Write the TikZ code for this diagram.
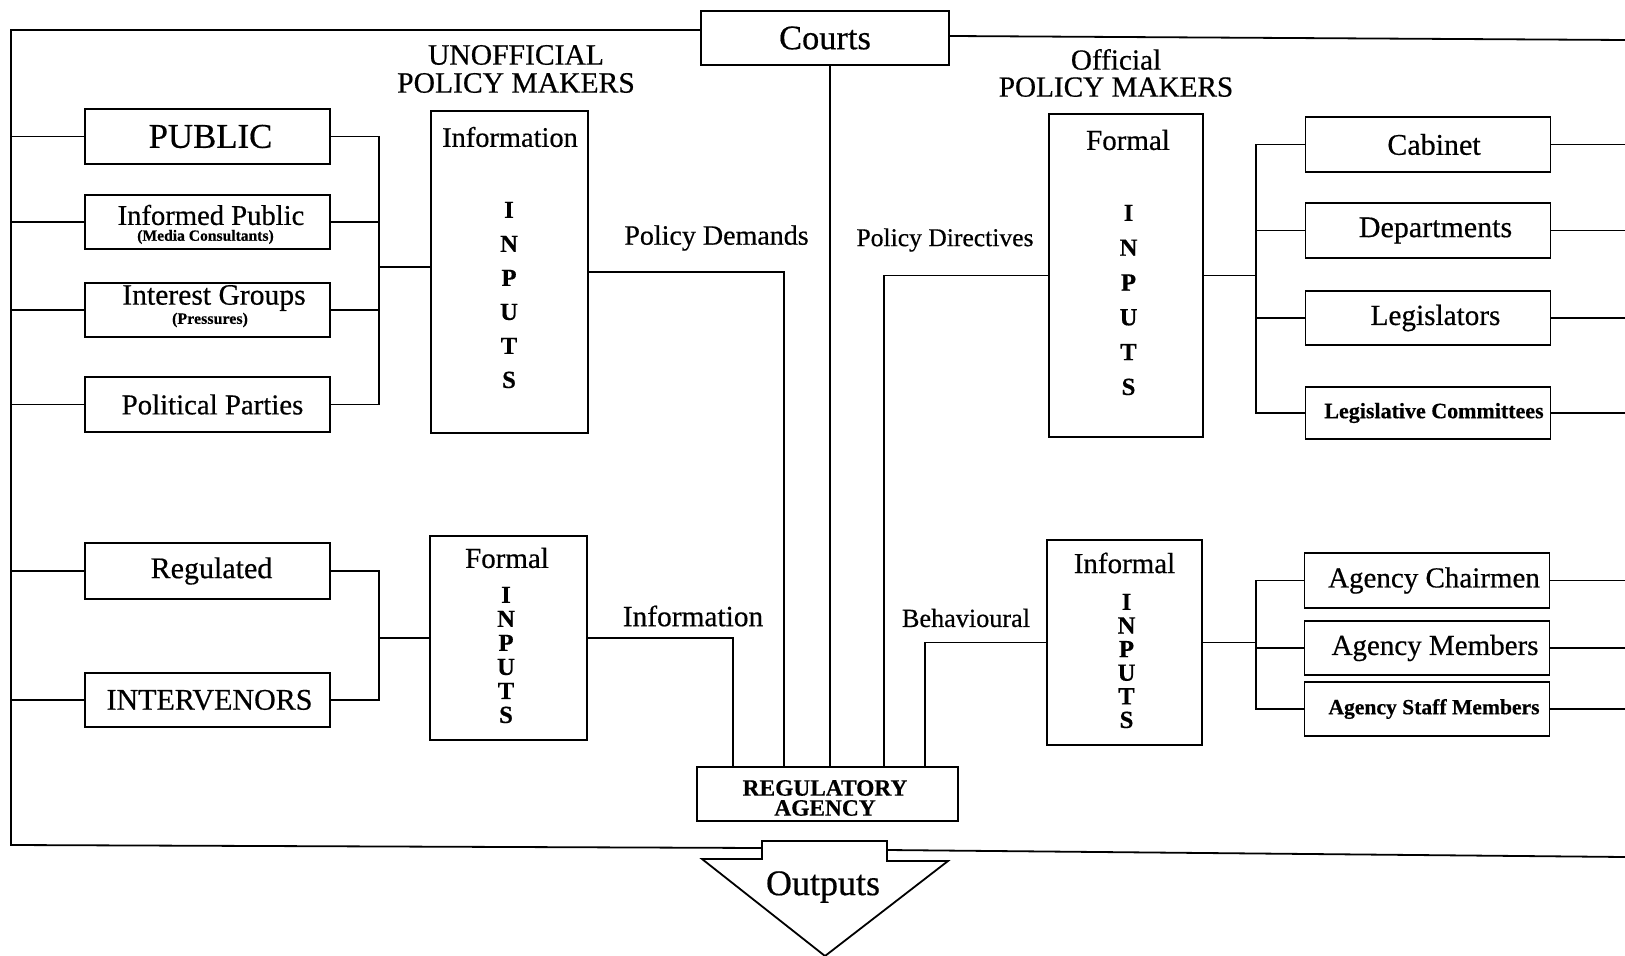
\documentclass[tikz,border=0pt]{standalone}
\usepackage{fontspec}
\setmainfont{Liberation Serif}[FakeBold=0.5]
\usetikzlibrary{calc}
\newcommand\fsz[1]{\fontsize{#1pt}{#1pt}\selectfont}
\begin{document}
\begin{tikzpicture}[x=0.5pt,y=-0.5pt,line width=0.9pt,
  box/.style={draw,line width=0.9pt,inner sep=0pt,align=center},
  wh/.style 2 args={minimum width=#1*0.5pt,minimum height=#2*0.5pt},
  lbl/.style={inner sep=0pt,align=center},
  letters/.style={inner sep=0pt,align=center,font=\bfseries\fontsize{12.3pt}{#1pt}\selectfont}]
\useasboundingbox (0,0) rectangle (1625,956);

% frame coordinates
\coordinate (ftl) at (11,30);
\coordinate (fbl) at (11,845);
\coordinate (stemL) at (762,848);
\coordinate (stemR) at (887,850);
\coordinate (ftr) at (1625,40);
\coordinate (fbr) at (1625,857);
\coordinate (fl) at (11,0);
\coordinate (fr) at (1625,0);
\coordinate (busL) at (379,0);
\coordinate (busR) at (1256,0);

% Courts
\node[box,wh={248}{54},font=\fsz{17.2}] (courts) at (825,38) {Courts};

% headings
\node[lbl,font=\fontsize{14.8pt}{14pt}\selectfont] (unoff) at (516,69) {UNOFFICIAL\\POLICY MAKERS};
\node[lbl,font=\fontsize{14.6pt}{13.5pt}\selectfont] (off) at (1116,73) {Official\\POLICY MAKERS};

% left column
\node[box,wh={245}{55},font=\fsz{17.4}] (pub) at (207.5,136.5) {\hspace*{3pt}PUBLIC};
\node[box,wh={245}{54}] (infp) at (207.5,222) {};
\node[lbl,font=\fsz{14.3}] (infpt) at (211,215) {Informed Public};
\node[lbl,font=\bfseries\fsz{7.8}] (infps) at (205.5,237) {(Media Consultants)};
\node[box,wh={245}{54}] (intg) at (207.5,310) {};
\node[lbl,font=\fsz{14.8}] (intgt) at (214,298) {Interest Groups};
\node[lbl,font=\bfseries\fsz{8}] (intgs) at (210,320) {(Pressures)};
\node[box,wh={245}{55},font=\fsz{14.4}] (pol) at (207.5,404.5) {\hspace*{5pt}Political Parties};
\node[box,wh={245}{56},font=\fsz{15}] (regd) at (207.5,571) {\hspace*{4pt}Regulated};
\node[box,wh={245}{54},font=\fsz{15}] (intv) at (207.5,700) {\hspace*{2pt}INTERVENORS};

% input boxes
\node[box,wh={157}{322}] (info) at (509.5,272) {};
\node[lbl,font=\fsz{14.2}] (infot) at (510,137) {Information};
\node[letters=17] (infoL) at (509,295) {I\\N\\P\\U\\T\\S};

\node[box,wh={157}{204}] (formBL) at (508.5,638) {};
\node[lbl,font=\fsz{14.5}] (formBLt) at (507,558) {Formal};
\node[letters=12] (formBLL) at (506,655) {I\\N\\P\\U\\T\\S};

\node[box,wh={154}{323}] (formTR) at (1126,275.5) {};
\node[lbl,font=\fsz{14.5}] (formTRt) at (1128,140) {Formal};
\node[letters=17.4] (formTRL) at (1128.5,300) {I\\N\\P\\U\\T\\S};

\node[box,wh={155}{205}] (infm) at (1124.5,642.5) {};
\node[lbl,font=\fsz{14.5}] (infmt) at (1124.5,563) {Informal};
\node[letters=11.8] (infmL) at (1126.5,661) {I\\N\\P\\U\\T\\S};

% right column
\node[box,wh={245}{55},font=\fsz{15}] (cab) at (1428,144.5) {\hspace*{6pt}Cabinet};
\node[box,wh={245}{55},font=\fsz{15}] (dep) at (1428,230.5) {\hspace*{7.5pt}Departments};
\node[box,wh={245}{54},font=\fsz{14.6}] (leg) at (1428,318) {\hspace*{7.5pt}Legislators};
\node[box,wh={245}{52},font=\bfseries\fsz{11}] (lc) at (1428,413) {\hspace*{6pt}Legislative Committees};
\node[box,wh={245}{55},font=\fsz{14.5}] (ach) at (1427,580.5) {\hspace*{7pt}Agency Chairmen};
\node[box,wh={245}{54},font=\fsz{14.5}] (amem) at (1427,648) {\hspace*{8pt}Agency Members};
\node[box,wh={245}{54},font=\bfseries\fsz{10.8}] (ast) at (1427,709) {\hspace*{7pt}Agency Staff Members};

% regulatory agency
\node[box,wh={261}{54}] (rega) at (827.5,794) {};
\node[lbl,font=\bfseries\fontsize{11.7pt}{10pt}\selectfont] (regat) at (825,798) {REGULATORY\\AGENCY};

% flow labels
\node[lbl,font=\fsz{14}] (pdem) at (716.5,238) {Policy Demands};
\node[lbl,font=\fsz{12.8}] (pdir) at (945,240) {Policy Directives};
\node[lbl,font=\fsz{14.7}] (infl) at (693,616) {Information};
\node[lbl,font=\fsz{13.1}] (behl) at (966,618) {Behavioural};

% outer frame
\draw (courts.west |- ftl) -- (ftl) -- (fbl) -- (stemL);
\draw (courts.east |- 0,36) -- (ftr);
\draw (stemR) -- (fbr);

% outputs arrow
\draw (762,859) -- (762,841) -- (887,841) -- (887,861) -- (948,861) -- (825,956) -- (702,859) -- cycle;
\node[lbl,font=\fsz{18}] (out) at (823,887) {Outputs};

% left frame connectors
\foreach \n in {pub,infp,intg,pol,regd,intv}{
  \draw (\n.west) -- (\n.west -| fl);
}
% right frame connectors
\foreach \n in {cab,dep,leg,lc,ach,amem,ast}{
  \draw (\n.east) -- (\n.east -| fr);
}

% left buses
\draw (pub.east) -| (busL |- pol.east) -- (pol.east);
\draw (infp.east) -- (infp.east -| busL);
\draw (intg.east) -- (intg.east -| busL);
\draw (busL |- 0,267) -- (info.west |- 0,267);
\draw (regd.east) -| (busL |- intv.east) -- (intv.east);
\draw (busL |- formBL.west) -- (formBL.west);

% right buses
\draw (cab.west) -| (busR |- lc.west) -- (lc.west);
\draw (dep.west) -- (dep.west -| busR);
\draw (leg.west) -- (leg.west -| busR);
\draw (formTR.east) -- (formTR.east -| busR);
\draw (ach.west) -| (busR |- ast.west) -- (ast.west);
\draw (amem.west) -- (amem.west -| busR);
\draw (infm.east) -- (infm.east -| busR);

% connectors into the regulatory agency
\draw (formBL.east) -| (rega.north -| 733,0);
\draw (info.east) -| (rega.north -| 784,0);
\draw ($(courts.south)+(5,0)$) -- (rega.north -| 830,0);
\draw (formTR.west) -| (rega.north -| 884,0);
\draw (infm.west) -| (rega.north -| 925,0);
\end{tikzpicture}
\end{document}
